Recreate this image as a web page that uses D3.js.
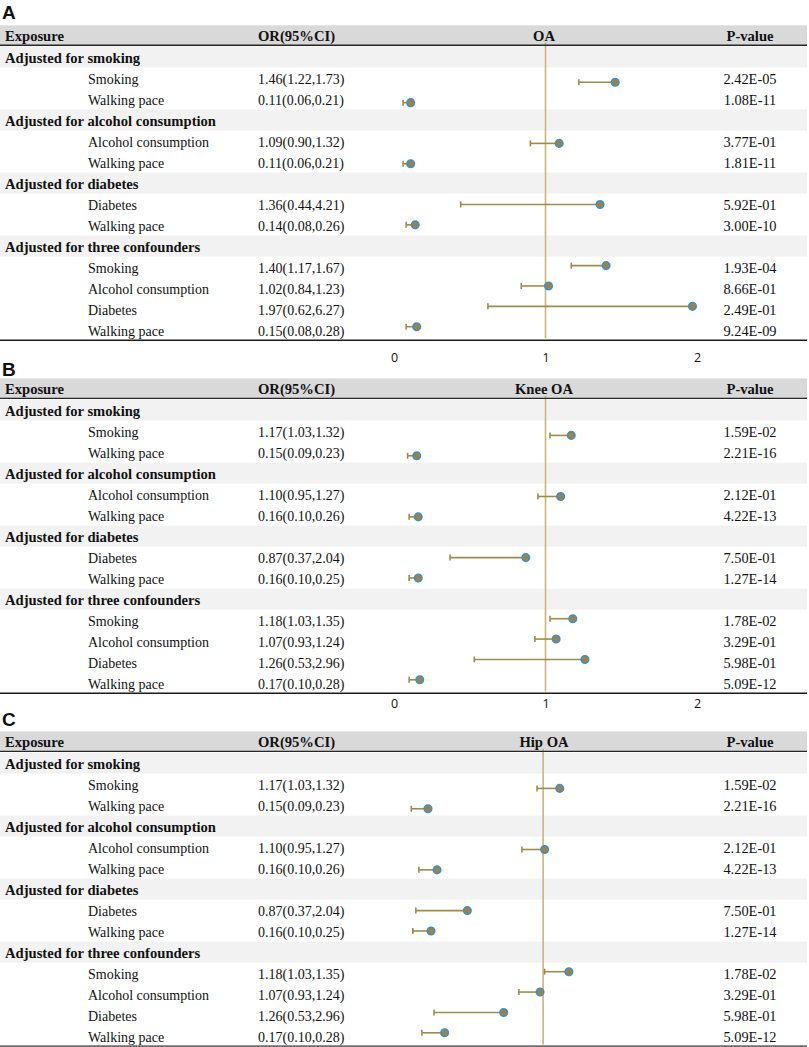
<!DOCTYPE html>
<html><head><meta charset="utf-8">
<script src="https://cdn.jsdelivr.net/npm/d3@7"></script>
<style>body{margin:0;background:#fff}svg{display:block}</style>
</head><body>
<svg id="chart" width="809" height="1047"></svg>
<script>
// ---------- data ----------
const groupLabels = ["Adjusted for smoking", "Adjusted for alcohol consumption", "Adjusted for diabetes", "Adjusted for three confounders"];
const exposureLabels = ["Smoking", "Walking pace", "Alcohol consumption", "Walking pace", "Diabetes", "Walking pace", "Smoking", "Alcohol consumption", "Diabetes", "Walking pace"];
const exposureGroup = [0, 0, 1, 1, 2, 2, 3, 3, 3, 3];
const panelLetters = ["A", "B", "C"];
const outcomes = ["OA", "Knee OA", "Hip OA"];
const headers = ["Exposure", "OR(95%CI)", "P-value"];
const axisTicks = [0, 1, 2];

// Panel A (OA)
const orA  = [1.46, 0.11, 1.09, 0.11, 1.36, 0.14, 1.40, 1.02, 1.97, 0.15];
const lowA = [1.22, 0.06, 0.90, 0.06, 0.44, 0.08, 1.17, 0.84, 0.62, 0.08];
const upA  = [1.73, 0.21, 1.32, 0.21, 4.21, 0.26, 1.67, 1.23, 6.27, 0.28];
const pA   = ["2.42E-05", "1.08E-11", "3.77E-01", "1.81E-11", "5.92E-01", "3.00E-10", "1.93E-04", "8.66E-01", "2.49E-01", "9.24E-09"];

// Panel B (Knee OA)
const orB  = [1.17, 0.15, 1.10, 0.16, 0.87, 0.16, 1.18, 1.07, 1.26, 0.17];
const lowB = [1.03, 0.09, 0.95, 0.10, 0.37, 0.10, 1.03, 0.93, 0.53, 0.10];
const upB  = [1.32, 0.23, 1.27, 0.26, 2.04, 0.25, 1.35, 1.24, 2.96, 0.28];
const pB   = ["1.59E-02", "2.21E-16", "2.12E-01", "4.22E-13", "7.50E-01", "1.27E-14", "1.78E-02", "3.29E-01", "5.98E-01", "5.09E-12"];

// Panel C (Hip OA): table text as printed, plotted estimates
const orC  = [1.17, 0.15, 1.10, 0.16, 0.87, 0.16, 1.18, 1.07, 1.26, 0.17];
const lowC = [1.03, 0.09, 0.95, 0.10, 0.37, 0.10, 1.03, 0.93, 0.53, 0.10];
const upC  = [1.32, 0.23, 1.27, 0.26, 2.04, 0.25, 1.35, 1.24, 2.96, 0.28];
const pC   = ["1.59E-02", "2.21E-16", "2.12E-01", "4.22E-13", "7.50E-01", "1.27E-14", "1.78E-02", "3.29E-01", "5.98E-01", "5.09E-12"];
const plotOrC  = [1.11, 0.24, 1.01, 0.30, 0.50, 0.26, 1.17, 0.98, 0.74, 0.35];
const plotLowC = [0.96, 0.13, 0.86, 0.18, 0.16, 0.14, 1.01, 0.84, 0.28, 0.20];

// ---------- layout ----------
const W = 809;
const panels = [
  {letter: panelLetters[0], outcome: outcomes[0], or: orA, low: lowA, up: upA, p: pA, plotOr: orA, plotLow: lowA,
   top: 45.3, letterY: 18.5, axisY: 353.5, xr: [394, 697], bottomColor: "#1a1a1a", bottomW: 1.5},
  {letter: panelLetters[1], outcome: outcomes[1], or: orB, low: lowB, up: upB, p: pB, plotOr: orB, plotLow: lowB,
   top: 398.4, letterY: 375.5, axisY: 699, xr: [394, 697], bottomColor: "#1a1a1a", bottomW: 1.5},
  {letter: panelLetters[2], outcome: outcomes[2], or: orC, low: lowC, up: upC, p: pC, plotOr: plotOrC, plotLow: plotLowC,
   top: 751.4, letterY: 726, axisY: null, xr: [391.6, 694.6], bottomColor: "#6e6e6e", bottomW: 2}
];

const serif = "'Liberation Serif','Times New Roman',serif";
const boldSize = 14.6;
const svg = d3.select("#chart");

// rows: group header followed by its exposures
function buildRows() {
  const rows = [];
  groupLabels.forEach((g, gi) => {
    rows.push({type: "group", label: g});
    exposureLabels.forEach((e, k) => {
      if (exposureGroup[k] === gi) rows.push({type: "item", label: e, k});
    });
  });
  return rows;
}
const rows = buildRows();

panels.forEach(P => {
  const g = svg.append("g");
  const x = d3.scaleLinear().domain([0, 2]).range(P.xr);
  const rowBand = d3.scaleBand().domain(d3.range(rows.length)).range([P.top + 1.2, P.top + 1.2 + 21 * rows.length]).paddingInner(0);
  const pointY = d3.scaleLinear().domain([1, 13]).range([P.top + 37, P.top + 281.4]);

  // panel letter
  g.append("text").attr("x", 2).attr("y", P.letterY).text(P.letter)
    .attr("font-family", "'Liberation Sans',Arial,sans-serif").attr("font-weight", "bold").attr("font-size", 19).attr("fill", "#111");

  // header band
  g.append("rect").attr("x", 0).attr("y", P.top - 20).attr("width", W - 2).attr("height", 20).attr("fill", "#d9d9d9");

  // group bands
  g.selectAll("rect.grp").data(rows.map((r, i) => ({r, i})).filter(d => d.r.type === "group")).join("rect")
    .attr("class", "grp").attr("x", 0).attr("y", d => rowBand(d.i)).attr("width", W - 2).attr("height", rowBand.bandwidth())
    .attr("fill", "#f2f2f2");

  // header texts
  const hy = P.top - 4.5;
  const hdr = [
    {t: headers[0], x: 5, a: "start"},
    {t: headers[1], x: 258, a: "start"},
    {t: P.outcome, x: 544, a: "middle"},
    {t: headers[2], x: 750, a: "middle"}
  ];
  g.selectAll("text.hdr").data(hdr).join("text").attr("class", "hdr")
    .attr("x", d => d.x).attr("y", hy).attr("text-anchor", d => d.a).text(d => d.t)
    .attr("font-family", serif).attr("font-weight", "bold").attr("font-size", boldSize).attr("fill", "#111");

  // reference line at OR = 1
  g.append("line").attr("x1", x(1)).attr("x2", x(1)).attr("y1", P.top - 3).attr("y2", P.top + 293)
    .attr("stroke", "#c8b57c").attr("stroke-width", 1.6);

  // header line
  g.append("line").attr("x1", 0).attr("x2", W - 2).attr("y1", P.top).attr("y2", P.top)
    .attr("stroke", "#262626").attr("stroke-width", 1.4);

  // row texts
  const tb = i => rowBand(i) + rowBand.bandwidth() / 2 + 6;
  rows.forEach((r, i) => {
    if (r.type === "group") {
      g.append("text").attr("x", 5).attr("y", tb(i)).text(r.label)
        .attr("font-family", serif).attr("font-weight", "bold").attr("font-size", boldSize).attr("fill", "#111");
    } else {
      const k = r.k;
      g.append("text").attr("x", 88).attr("y", tb(i)).text(r.label)
        .attr("font-family", serif).attr("font-size", 14).attr("fill", "#111");
      g.append("text").attr("x", 258).attr("y", tb(i))
        .text(`${P.or[k].toFixed(2)}(${P.low[k].toFixed(2)},${P.up[k].toFixed(2)})`)
        .attr("font-family", serif).attr("font-size", 14).attr("fill", "#111");
      g.append("text").attr("x", 750).attr("y", tb(i)).attr("text-anchor", "middle").text(P.p[k])
        .attr("font-family", serif).attr("font-size", 14.4).attr("fill", "#111");
    }
  });

  // error bars (lower CI to estimate) + caps + points
  const pts = rows.map((r, i) => ({r, i})).filter(d => d.r.type === "item").map(d => ({i: d.i, k: d.r.k}));
  g.selectAll("line.err").data(pts).join("line").attr("class", "err")
    .attr("x1", d => x(P.plotLow[d.k])).attr("x2", d => x(P.plotOr[d.k]))
    .attr("y1", d => pointY(d.i)).attr("y2", d => pointY(d.i))
    .attr("stroke", "#a08a4c").attr("stroke-width", 1.6);
  g.selectAll("line.cap").data(pts).join("line").attr("class", "cap")
    .attr("x1", d => x(P.plotLow[d.k])).attr("x2", d => x(P.plotLow[d.k]))
    .attr("y1", d => pointY(d.i) - 3).attr("y2", d => pointY(d.i) + 3)
    .attr("stroke", "#a08a4c").attr("stroke-width", 1.6);
  g.selectAll("circle.pt").data(pts).join("circle").attr("class", "pt")
    .attr("cx", d => x(P.plotOr[d.k])).attr("cy", d => pointY(d.i)).attr("r", 3.8)
    .attr("fill", "#9b8443").attr("stroke", "#3a8fd8").attr("stroke-width", 1.5);

  // bottom line
  const bot = P.top + 1.2 + 21 * rows.length - 0.3;
  g.append("line").attr("x1", 0).attr("x2", W - 2).attr("y1", bot).attr("y2", bot)
    .attr("stroke", P.bottomColor).attr("stroke-width", P.bottomW);

  // axis labels
  if (P.axisY !== null) {
    const ax = g.append("g").attr("transform", `translate(0,${P.axisY})`)
      .call(d3.axisBottom(x).tickValues(axisTicks).tickSize(0).tickPadding(0).tickFormat(d3.format("d")));
    ax.select(".domain").remove();
    ax.selectAll("text").attr("font-family", "'Open Sans','Noto Sans',sans-serif").attr("font-size", 12.5).attr("fill", "#111");
  }
});
</script>
</body></html>
